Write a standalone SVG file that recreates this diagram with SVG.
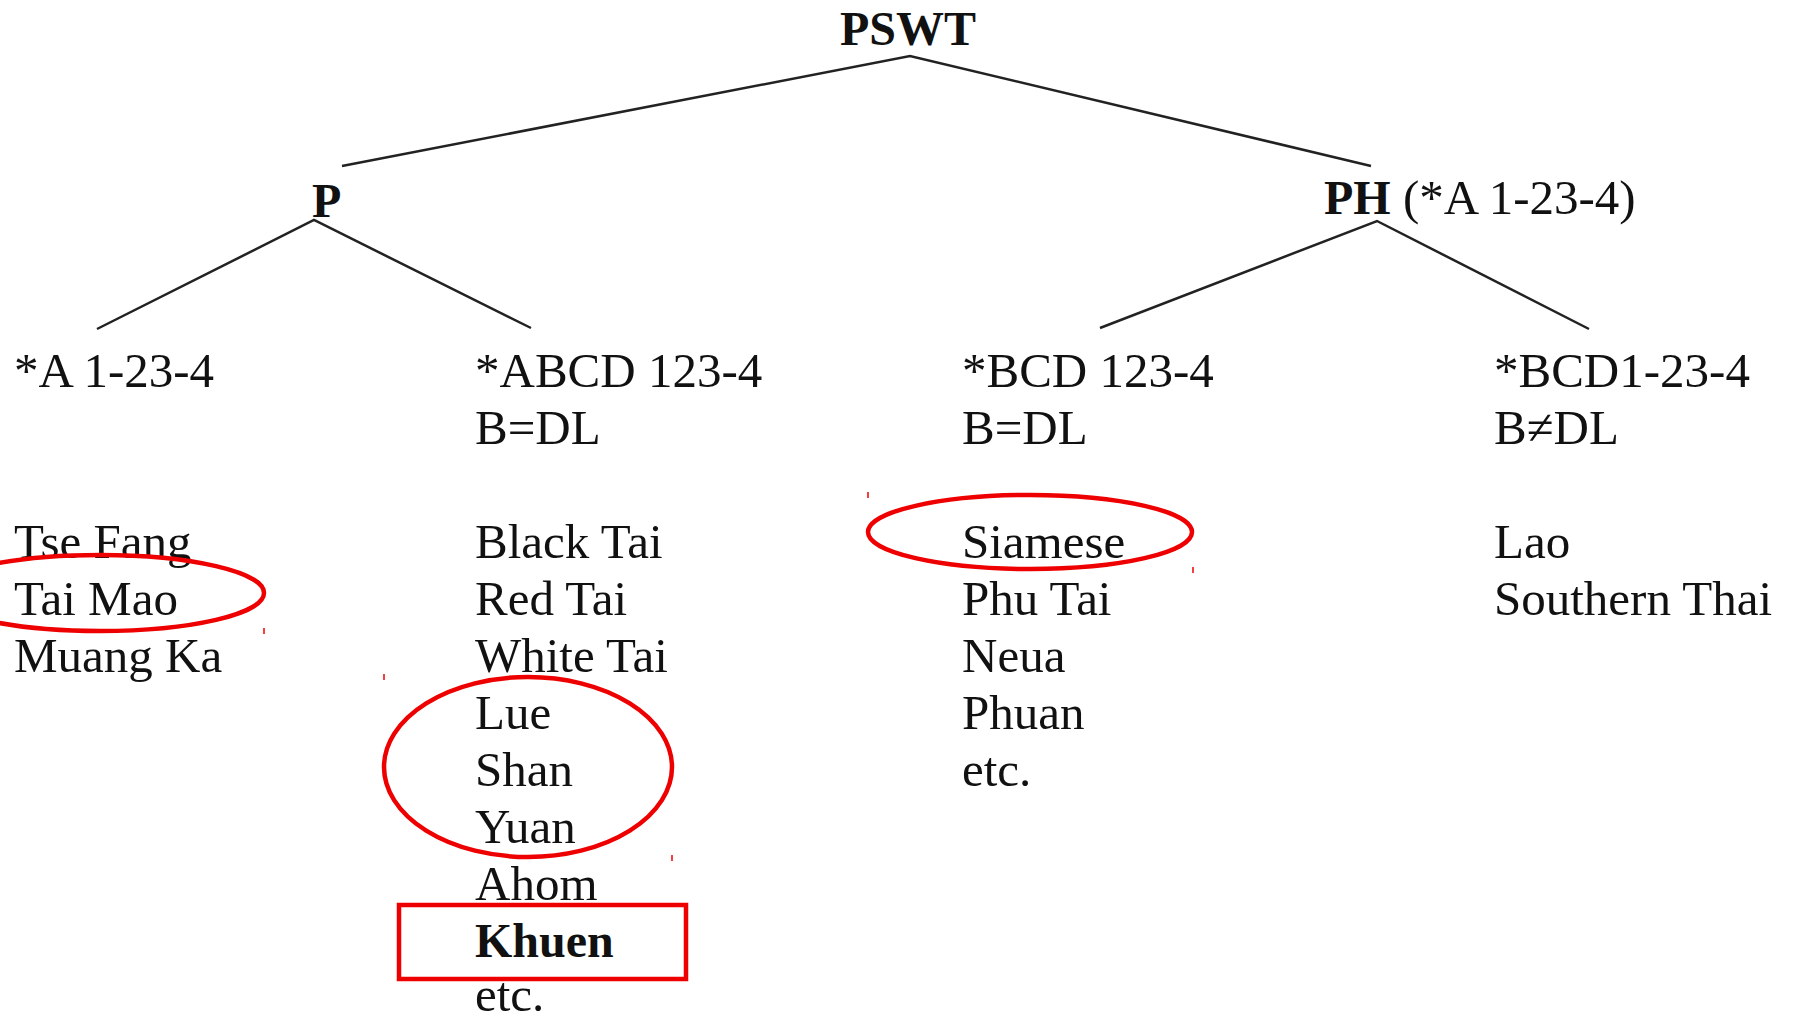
<svg xmlns="http://www.w3.org/2000/svg" width="1795" height="1016" viewBox="0 0 1795 1016">
<style>
text{font-family:"Liberation Serif","Times New Roman",serif;font-size:49px;fill:#111}
.b{font-weight:bold;font-size:48px}
.ln{stroke:#222;stroke-width:2.5;fill:none}
.red{stroke:#ee0000;stroke-width:4.5;fill:none}
.tick{stroke:#ee0000;stroke-width:1.5}
</style>
<rect width="1795" height="1016" fill="#fff"/>
<g id="connectors">
<polyline class="ln" points="342,166 910,56 1371,166"/>
<polyline class="ln" points="97,329 314,220 531,328"/>
<polyline class="ln" points="1100,328 1377,221 1589,329"/>
</g>
<g id="PSWT"><text class="b" x="840" y="45">PSWT</text></g>
<g id="P"><text class="b" x="312" y="217">P</text></g>
<g id="PH"><text x="1324" y="214"><tspan class="b">PH</tspan> (*A 1-23-4)</text></g>
<g id="A1234"><text x="14" y="387">*A 1-23-4</text>
<text x="14" y="558">Tse Fang</text><text x="14" y="615">Tai Mao</text><text x="14" y="672">Muang Ka</text></g>
<g id="ABCD">
<text x="475" y="387">*ABCD 123-4</text><text x="475" y="444">B=DL</text>
<text x="475" y="558">Black Tai</text><text x="475" y="615">Red Tai</text><text x="475" y="672">White Tai</text>
<text x="475" y="729">Lue</text><text x="475" y="786">Shan</text><text x="475" y="843">Yuan</text>
<text x="475" y="900">Ahom</text><text class="b" x="475" y="957">Khuen</text><text x="475" y="1011">etc.</text></g>
<g id="BCD123">
<text x="962" y="387">*BCD 123-4</text><text x="962" y="444">B=DL</text>
<text x="962" y="558">Siamese</text><text x="962" y="615">Phu Tai</text><text x="962" y="672">Neua</text>
<text x="962" y="729">Phuan</text><text x="962" y="786">etc.</text></g>
<g id="BCD1234">
<text x="1494" y="387">*BCD1-23-4</text><text x="1494" y="444">B≠DL</text>
<text x="1494" y="558">Lao</text><text x="1494" y="615">Southern Thai</text></g>
<g id="highlights">
<ellipse class="red" cx="100" cy="593" rx="164" ry="38"/>
<ellipse class="red" cx="1030" cy="532" rx="162" ry="37"/>
<ellipse class="red" cx="528" cy="767" rx="144" ry="90"/>
<rect class="red" x="399" y="905" width="287" height="74"/>
<line class="tick" x1="264" y1="628" x2="264" y2="634"/>
<line class="tick" x1="384" y1="674" x2="384" y2="680"/>
<line class="tick" x1="672" y1="855" x2="672" y2="861"/>
<line class="tick" x1="868" y1="492" x2="868" y2="498"/>
<line class="tick" x1="1193" y1="567" x2="1193" y2="573"/>
</g>
</svg>
